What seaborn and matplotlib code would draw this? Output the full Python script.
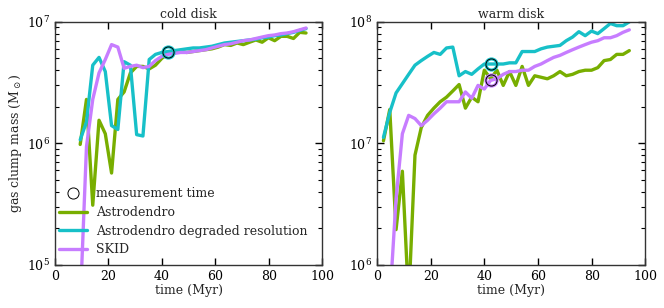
import numpy as np
import pandas as pd
import matplotlib
matplotlib.use("Agg")
import matplotlib.pyplot as plt
from matplotlib.ticker import LogLocator, NullLocator
import seaborn as sns

# time grid (Myr), step 2.35
t_cold = [2.35 * n for n in range(4, 41)]
t_warm = [2.35 * n for n in range(1, 41)]
t_meas = 42.3

# cold disk, masses in Msun
cold_astro = [9.8e5, 2.3e6, 3.1e5, 1.55e6, 1.2e6, 5.7e5, 2.3e6, 2.65e6, 3.8e6, 4.3e6,
              4.3e6, 4.1e6, 4.4e6, 5.0e6, 5.5e6,
              5.6e6, 5.7e6, 5.6e6, 5.7e6, 5.8e6, 5.9e6, 6.0e6, 6.2e6, 6.5e6, 6.4e6, 6.7e6,
              6.5e6, 6.8e6, 7.1e6, 6.8e6, 7.4e6, 7.0e6, 7.6e6, 7.6e6, 7.3e6, 8.2e6, 8.1e6]
cold_degr = [1.07e6, 1.5e6, 4.4e6, 5.1e6, 3.9e6, 1.4e6, 1.3e6, 4.7e6, 4.4e6, 1.18e6,
             1.15e6, 4.9e6, 5.4e6, 5.6e6, 5.7e6,
             5.8e6, 5.9e6, 6.0e6, 6.1e6, 6.1e6, 6.2e6, 6.3e6, 6.5e6, 6.7e6, 6.8e6, 6.9e6,
             7.0e6, 7.1e6, 7.2e6, 7.4e6, 7.5e6, 7.7e6, 7.8e6, 8.0e6, 8.2e6, 8.5e6, 8.8e6]
cold_skid = [4.6e4, 9.4e5, 2.3e6, 3.8e6, 4.9e6, 6.5e6, 6.2e6, 4.15e6, 4.3e6, 4.4e6,
             4.2e6, 4.3e6, 4.8e6, 5.2e6, 5.4e6,
             5.5e6, 5.6e6, 5.6e6, 5.7e6, 5.8e6, 5.9e6, 6.1e6, 6.3e6, 6.5e6, 6.6e6, 6.8e6,
             7.0e6, 7.1e6, 7.3e6, 7.5e6, 7.7e6, 7.8e6, 8.0e6, 8.1e6, 8.3e6, 8.6e6, 8.9e6]

# warm disk
warm_astro = [1.05e7, 1.9e7, 1.95e6, 5.9e6, 5e5, 8e6, 1.35e7, 1.7e7, 1.95e7, 2.2e7,
              2.4e7, 2.7e7, 3.05e7, 1.95e7, 2.4e7, 2.2e7, 4.0e7, 3.4e7,
              4.0e7, 3.0e7, 3.9e7, 3.0e7, 4.3e7, 3.0e7, 3.6e7, 3.5e7, 3.4e7, 3.6e7, 3.9e7,
              3.6e7, 3.7e7, 3.9e7, 4.0e7, 4.0e7, 4.2e7, 4.8e7, 4.9e7, 5.4e7, 5.4e7, 5.8e7]
warm_degr = [1.12e7, 1.8e7, 2.6e7, 3.1e7, 3.7e7, 4.4e7, 4.8e7, 5.2e7, 5.6e7, 5.4e7,
             6.1e7, 6.2e7, 3.6e7, 3.9e7, 3.7e7, 4.1e7, 4.5e7, 4.5e7,
             4.5e7, 4.5e7, 4.6e7, 4.6e7, 5.7e7, 5.7e7, 5.7e7, 6.0e7, 6.2e7, 6.3e7, 6.4e7,
             7.0e7, 7.5e7, 8.3e7, 7.7e7, 8.4e7, 8.0e7, 8.8e7, 9.7e7, 9.3e7, 9.3e7, 1.0e8]
warm_skid = [2e5, 5e5, 3.5e6, 1.2e7, 1.7e7, 1.6e7, 1.4e7, 1.55e7, 1.75e7, 1.95e7,
             2.2e7, 2.2e7, 2.2e7, 2.65e7, 2.35e7, 3.0e7, 2.8e7, 3.3e7,
             3.4e7, 3.7e7, 3.9e7, 3.9e7, 4.0e7, 4.0e7, 4.3e7, 4.5e7, 4.8e7, 5.1e7, 5.3e7,
             5.6e7, 5.9e7, 6.2e7, 6.5e7, 6.8e7, 7.0e7, 7.4e7, 7.4e7, 7.7e7, 8.2e7, 8.6e7]

labels = ["Astrodendro", "Astrodendro degraded resolution", "SKID"]
colors = ["#78ae00", "#17c0c8", "#c77dff"]

sns.set_style("ticks")
plt.rcParams["font.family"] = ["DejaVu Serif"]
plt.rcParams["mathtext.fontset"] = "dejavuserif"
plt.rcParams["xtick.direction"] = "in"
plt.rcParams["ytick.direction"] = "in"

fs = 9
fig = plt.figure(figsize=(6.64, 3.08), dpi=100)
ax1 = fig.add_axes([0.083, 0.14, 0.402, 0.789])
ax2 = fig.add_axes([0.568, 0.14, 0.404, 0.789])

panels = [
    (ax1, t_cold, [cold_astro, cold_degr, cold_skid], "cold disk", (1e5, 1e7), [1]),
    (ax2, t_warm, [warm_astro, warm_degr, warm_skid], "warm disk", (1e6, 1e8), [1, 2]),
]

for ax, t, series, title, ylim, marked in panels:
    ax.set_yscale("log")
    for vals, lab, c in zip(series, labels, colors):
        sns.lineplot(x=t, y=vals, ax=ax, color=c, lw=2.4, label=lab)
    k = min(range(len(t)), key=lambda j: abs(t[j] - t_meas))
    for i in marked:
        m = series[i][k]
        ax.plot([t_meas], [m], "o", ms=8, mfc="none", mec=colors[i], mew=2.2)
        ax.plot([t_meas], [m], "o", ms=8, mfc="none", mec="black", mew=0.7)
    ax.set_xlim(0, 100)
    ax.set_ylim(*ylim)
    ax.yaxis.set_minor_locator(LogLocator(base=10, subs=np.arange(2, 10)))
    ax.xaxis.set_minor_locator(NullLocator())
    ax.set_title(title, fontsize=fs, pad=3)
    ax.set_xlabel("time (Myr)", fontsize=fs, labelpad=1)
    ax.tick_params(which="both", labelsize=fs, colors="black",
                   left=True, right=True, top=True, bottom=True)
    ax.tick_params(which="major", length=5, width=1.0)
    ax.tick_params(which="minor", length=3, width=0.8)
    for s in ax.spines.values():
        s.set_color("#333333")
        s.set_linewidth(1.0)
    ax.get_legend().remove()

ax1.set_ylabel(r"gas clump mass (M$_\odot$)", fontsize=fs, labelpad=2)

handles, labs = ax1.get_legend_handles_labels()
circle = plt.Line2D([], [], ls="none", marker="o", ms=8, mfc="none", mec="black", mew=0.7)
ax1.legend([circle] + handles[:3], ["measurement time"] + labs[:3], loc="lower left",
           frameon=False, fontsize=fs, handlelength=2.3, handletextpad=0.7,
           labelspacing=0.45, borderaxespad=0.3, bbox_to_anchor=(-0.02, 0.0))

fig.savefig("out.png", dpi=100)
